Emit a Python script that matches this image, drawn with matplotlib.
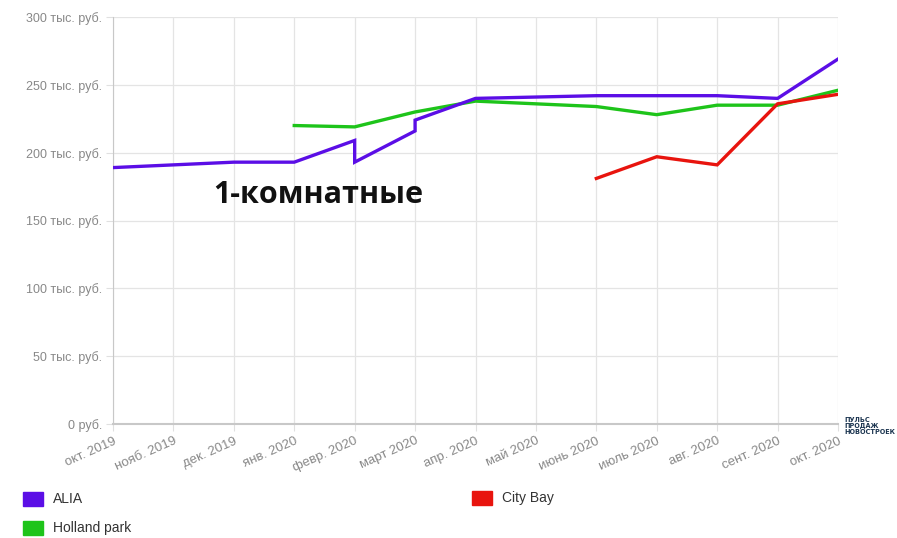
import matplotlib
matplotlib.use("Agg")
import matplotlib.pyplot as plt
from matplotlib.patches import Rectangle
import numpy as np

months = ["окт. 2019", "нояб. 2019", "дек. 2019", "янв. 2020", "февр. 2020", "март 2020",
          "апр. 2020", "май 2020", "июнь 2020", "июль 2020", "авг. 2020", "сент. 2020", "окт. 2020"]

# ALIA has two values at февр. and март (vertical jumps)
alia_x = [0, 1, 2, 3, 4, 4, 5, 5, 6, 7, 8, 9, 10, 11, 12]
alia_y = [189, 191, 193, 193, 209, 193, 216, 224, 240, 241, 242, 242, 242, 240, 269]

holland_x = [3, 4, 5, 6, 7, 8, 9, 10, 11, 12]
holland_y = [220, 219, 230, 238, 236, 234, 228, 235, 235, 246]

citybay_x = [8, 9, 10, 11, 12]
citybay_y = [181, 197, 191, 236, 243]

yticks = [0, 50, 100, 150, 200, 250, 300]
ytick_labels = ["0 руб.", "50 тыс. руб.", "100 тыс. руб.", "150 тыс. руб.", "200 тыс. руб.",
                "250 тыс. руб.", "300 тыс. руб."]

c_alia = "#5b0ee6"
c_holland = "#1ec41a"
c_city = "#e8140e"

fig = plt.figure(figsize=(8.97, 5.38), dpi=100)
ax = fig.add_axes([113/897, 1-424/538, (838-113)/897, (424-17)/538])

lw = 2.4
ax.plot(holland_x, holland_y, color=c_holland, lw=lw, solid_joinstyle="miter", zorder=3)
ax.plot(citybay_x, citybay_y, color=c_city, lw=lw, solid_joinstyle="miter", zorder=3)
ax.plot(alia_x, alia_y, color=c_alia, lw=lw, solid_joinstyle="miter", zorder=4)

ax.set_xlim(0, 12)
ax.set_ylim(0, 300)
ax.set_yticks(yticks)
ax.set_yticklabels(ytick_labels, family=["Liberation Sans", "DejaVu Sans"], fontsize=9)
ax.set_xticks(range(len(months)))
ax.set_xticklabels(months, rotation=24, ha="right", rotation_mode="anchor",
                   family=["Liberation Sans", "DejaVu Sans"], fontsize=9.5)
ax.grid(True, color="#e4e4e4", lw=0.9)
ax.set_axisbelow(True)
for s in ["top", "right"]:
    ax.spines[s].set_visible(False)
ax.spines["left"].set_color("#c8c8c8")
ax.spines["bottom"].set_color("#c8c8c8")
ax.spines["bottom"].set_linewidth(1.5)
ax.tick_params(axis="both", length=5, color="#e0e0e0", labelcolor="#888888")
ax.tick_params(axis="y", pad=3)
ax.tick_params(axis="x", pad=3)

fig.text(318/897, 1-195/538, "1-комнатные", fontsize=22, fontweight="bold",
         family=["Open Sans", "DejaVu Sans"], ha="center", va="center", color="#111111")

fig.text(844/897, 1-426/538, "ПУЛЬС\nПРОДАЖ\nНОВОСТРОЕК", fontsize=4.7, fontweight="bold",
         color="#1c3550", ha="left", va="center", linespacing=1.0)

legend_items = [("ALIA", c_alia, 23, 499), ("Holland park", c_holland, 23, 528),
                ("City Bay", c_city, 472, 498)]
for label, col, px, py in legend_items:
    fig.patches.append(Rectangle((px/897, 1-(py+7)/538), 20/897, 14/538,
                                 transform=fig.transFigure, color=col))
    fig.text((px+30)/897, 1-py/538, label, fontsize=10, color="#333333",
             family=["Liberation Sans", "DejaVu Sans"],
             ha="left", va="center")

fig.savefig("out.png", dpi=100)
